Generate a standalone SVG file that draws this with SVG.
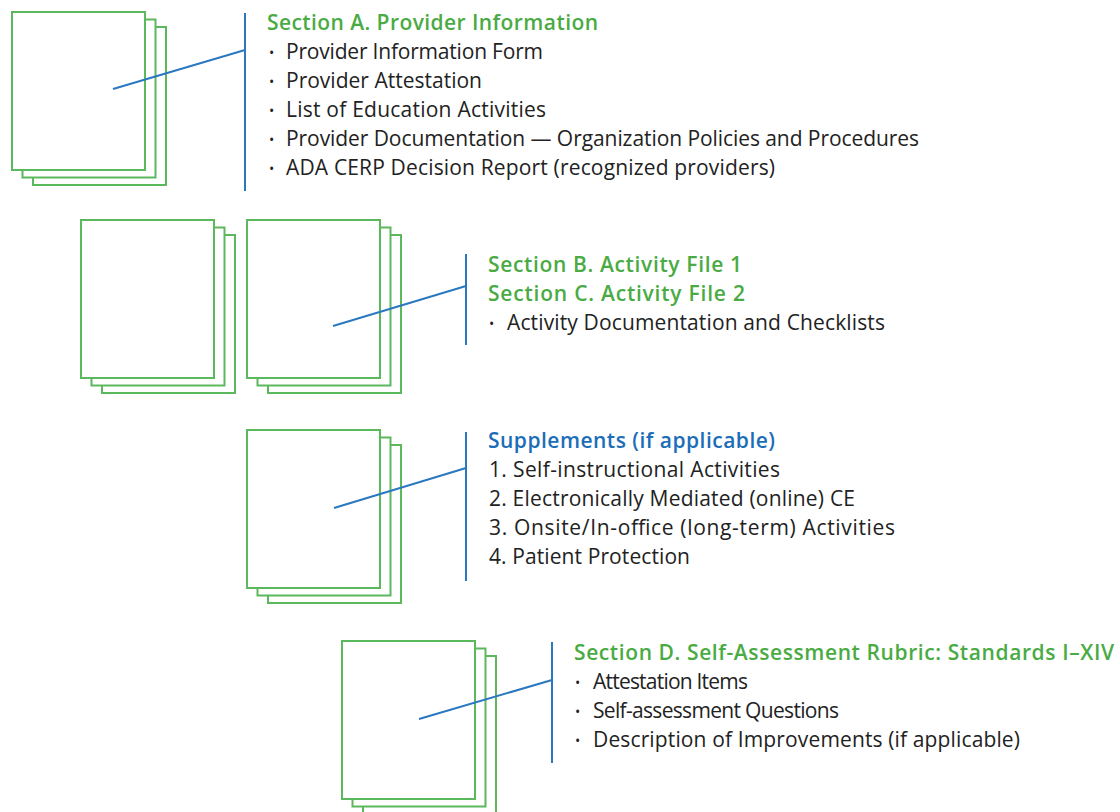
<svg xmlns="http://www.w3.org/2000/svg" width="1120" height="812" viewBox="0 0 1120 812">
  <defs>
    <style>
      .page { fill: #ffffff; stroke: #5cb85c; stroke-width: 2; }
      .lead { stroke: #2a78c0; stroke-width: 2; fill: none; }
      text { font-family: "Open Sans", "Noto Sans", "Liberation Sans", sans-serif; font-size: 21px; fill: #222222; }
      .title-g { fill: #4aab44; font-weight: 600; }
      .title-b { fill: #1c6db8; font-weight: 600; }
      .dot { font-size: 14px; }
    </style>
    <!-- a stack of three sheets, front sheet at the origin -->
    <g id="sheets">
      <rect class="page" x="21" y="15" width="133" height="158"/>
      <rect class="page" x="10.5" y="7.5" width="133" height="158"/>
      <rect class="page" x="0" y="0" width="133" height="158"/>
    </g>
  </defs>

  <g id="node-provider">
    <use href="#sheets" x="12" y="12"/>
    <text class="title-g" x="267" y="30" textLength="331">Section A. Provider Information</text>
    <text class="dot" x="269" y="58">•</text><text x="286" y="59" textLength="257">Provider Information Form</text>
    <text class="dot" x="269" y="87">•</text><text x="286" y="88" textLength="196">Provider Attestation</text>
    <text class="dot" x="269" y="116">•</text><text x="286" y="117" textLength="260">List of Education Activities</text>
    <text class="dot" x="269" y="145">•</text><text x="286" y="146" textLength="633">Provider Documentation — Organization Policies and Procedures</text>
    <text class="dot" x="269" y="174">•</text><text x="286" y="175" textLength="489">ADA CERP Decision Report (recognized providers)</text>
  </g>

  <g id="node-activity-1">
    <use href="#sheets" x="81" y="220"/>
  </g>

  <g id="node-activity-2">
    <use href="#sheets" x="247" y="220"/>
    <text class="title-g" x="488" y="272" textLength="254">Section B. Activity File 1</text>
    <text class="title-g" x="488" y="301" textLength="257">Section C. Activity File 2</text>
    <text class="dot" x="489" y="329">•</text><text x="507" y="330" textLength="378">Activity Documentation and Checklists</text>
  </g>

  <g id="node-supplements">
    <use href="#sheets" x="247" y="430"/>
    <text class="title-b" x="488" y="448" textLength="287">Supplements (if applicable)</text>
    <text x="489" y="477" textLength="291">1. Self-instructional Activities</text>
    <text x="489" y="506" textLength="366">2. Electronically Mediated (online) CE</text>
    <text x="489" y="535" textLength="406">3. Onsite/In-office (long-term) Activities</text>
    <text x="489" y="564" textLength="201">4. Patient Protection</text>
  </g>

  <g id="node-self-assessment">
    <use href="#sheets" x="342" y="641"/>
    <text class="title-g" x="574" y="660" textLength="540">Section D. Self-Assessment Rubric: Standards I–XIV</text>
    <text class="dot" x="575" y="688">•</text><text x="593" y="689" textLength="155">Attestation Items</text>
    <text class="dot" x="575" y="717">•</text><text x="593" y="718" textLength="246">Self-assessment Questions</text>
    <text class="dot" x="575" y="746">•</text><text x="593" y="747" textLength="427">Description of Improvements (if applicable)</text>
  </g>

  <g id="connectors">
    <line class="lead" x1="245" y1="13" x2="245" y2="191"/>
    <line class="lead" x1="113" y1="89" x2="245" y2="50"/>
    <line class="lead" x1="466" y1="254" x2="466" y2="345"/>
    <line class="lead" x1="333" y1="326" x2="466" y2="286"/>
    <line class="lead" x1="466" y1="432" x2="466" y2="581"/>
    <line class="lead" x1="334" y1="508" x2="466" y2="468"/>
    <line class="lead" x1="552" y1="642" x2="552" y2="763"/>
    <line class="lead" x1="419" y1="719" x2="552" y2="680"/>
  </g>
</svg>
